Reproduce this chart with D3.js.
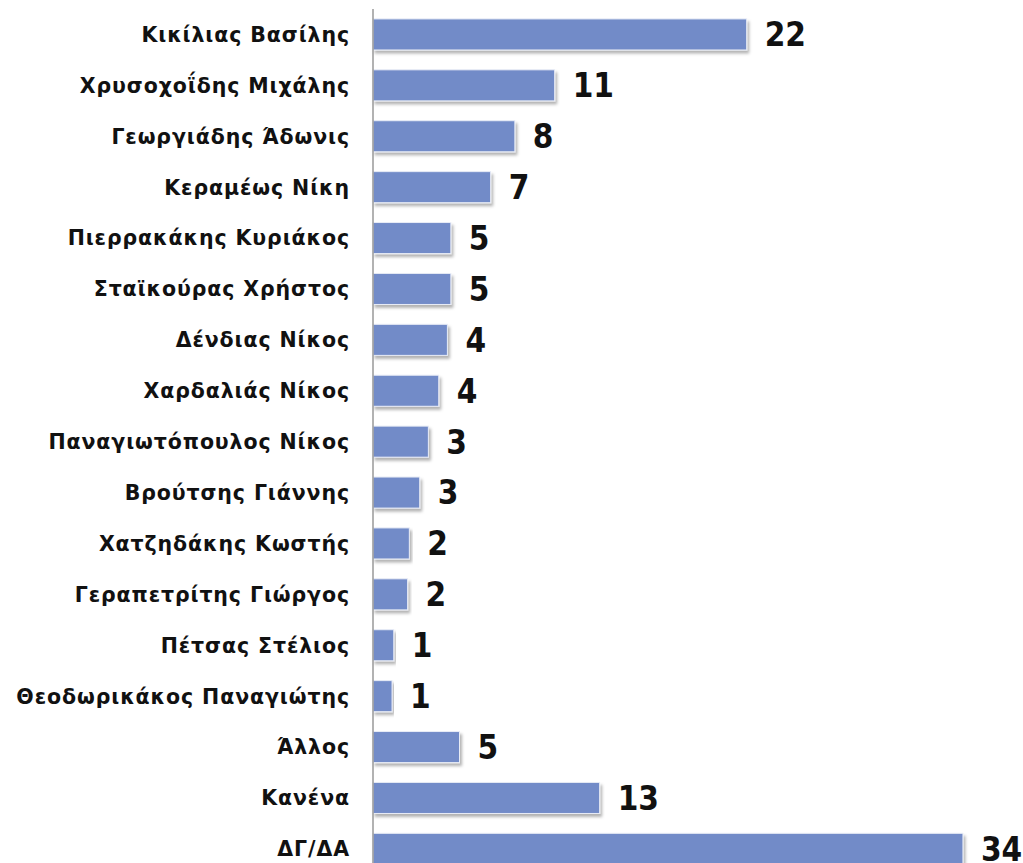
<!DOCTYPE html>
<html>
<head>
<meta charset="utf-8">
<script src="https://cdn.jsdelivr.net/npm/d3@7"></script>
<style>
  body { margin: 0; background: #fff; }
</style>
</head>
<body>
<script>
  // categories top to bottom
  var names = ['Κικίλιας Βασίλης', 'Χρυσοχοΐδης Μιχάλης', 'Γεωργιάδης Άδωνις', 'Κεραμέως Νίκη',
               'Πιερρακάκης Κυριάκος', 'Σταϊκούρας Χρήστος', 'Δένδιας Νίκος', 'Χαρδαλιάς Νίκος',
               'Παναγιωτόπουλος Νίκος', 'Βρούτσης Γιάννης', 'Χατζηδάκης Κωστής', 'Γεραπετρίτης Γιώργος',
               'Πέτσας Στέλιος', 'Θεοδωρικάκος Παναγιώτης', 'Άλλος ', 'Κανένα', 'ΔΓ/ΔΑ'];
  // underlying values (bar lengths) and the rounded labels shown
  var values = [21.6, 10.5, 8.2, 6.8, 4.5, 4.5, 4.3, 3.8, 3.2, 2.7, 2.1, 2.0, 1.2, 1.1, 5.0, 13.1, 34.1];
  var labels = ['22', '11', '8', '7', '5', '5', '4', '4', '3', '3', '2', '2', '1', '1', '5', '13', '34'];

  var width = 1023, height = 863;
  var x0 = 373;
  var svg = d3.select('body').append('svg')
              .attr('width', width)
              .attr('height', height);

  var defs = svg.append('defs');
  var f = defs.append('filter').attr('id', 'shadow')
              .attr('x', '-5%').attr('y', '-20%').attr('width', '115%').attr('height', '160%');
  f.append('feDropShadow').attr('dx', 2).attr('dy', 3).attr('stdDeviation', 1.5)
   .attr('flood-color', '#000').attr('flood-opacity', 0.3);

  var x = d3.scaleLinear().domain([0, 1]).range([x0, x0 + 17.3]);
  var y = d3.scaleBand().domain(names).range([9, 9 + 50.9 * names.length]).paddingInner(0.39).paddingOuter(0.195);

  // bars
  svg.append('g').selectAll('rect')
      .data(names).enter()
      .append('rect')
      .attr('x', x(0))
      .attr('y', function(d) { return y(d); })
      .attr('width', function(d, i) { return x(values[i]) - x(0); })
      .attr('height', y.bandwidth())
      .attr('fill', '#728bc8')
      .attr('stroke', '#e8ecf6')
      .attr('stroke-width', 1)
      .attr('filter', 'url(#shadow)');

  // axis line
  svg.append('line')
      .attr('x1', x0).attr('x2', x0)
      .attr('y1', 9).attr('y2', height)
      .attr('stroke', '#999').attr('stroke-width', 1.5);

  // category labels
  svg.append('g').selectAll('text')
      .data(names).enter()
      .append('text')
      .attr('x', 350)
      .attr('y', function(d) { return y(d) + y.bandwidth() / 2; })
      .attr('dy', '0.36em')
      .attr('text-anchor', 'end')
      .style('font-family', 'DejaVu Sans, sans-serif')
      .style('font-weight', 'bold')
      .style('font-size', '20.5px')
      .style('letter-spacing', '0.9px')
      .attr('fill', '#111')
      .text(function(d) { return d; });

  // value labels
  svg.append('g').selectAll('text')
      .data(names).enter()
      .append('text')
      .attr('x', function(d, i) { return x(values[i]) + 18; })
      .attr('y', function(d) { return y(d) + y.bandwidth() / 2; })
      .attr('dy', '0.36em')
      .style('font-family', '"DejaVu Sans Condensed", "Liberation Sans Narrow", sans-serif')
      .style('font-stretch', 'condensed')
      .style('font-weight', 'bold')
      .style('font-size', '33px')
      .attr('fill', '#111')
      .text(function(d, i) { return labels[i]; });
</script>
</body>
</html>
